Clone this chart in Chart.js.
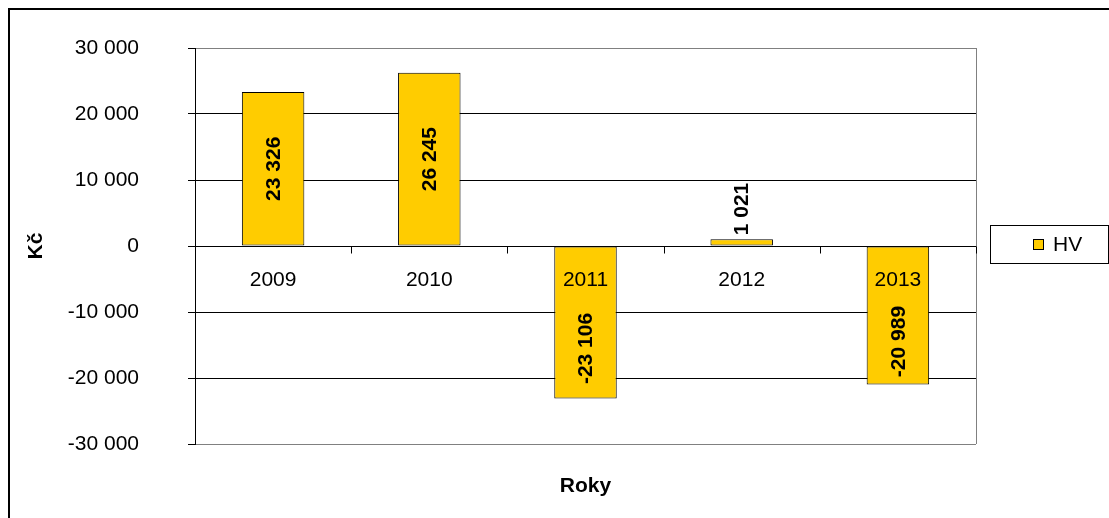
<!DOCTYPE html>
<html>
<head>
<meta charset="utf-8">
<script src="https://cdn.jsdelivr.net/npm/chart.js@4.4.1/dist/chart.umd.min.js"></script>
<style>
  html, body { margin: 0; padding: 0; background: #fff; }
  #wrap { width: 1109px; height: 518px; position: relative; }
</style>
</head>
<body>
<div id="wrap"><canvas id="chart" width="1109" height="518"></canvas></div>
<script>
const years = ['2009', '2010', '2011', '2012', '2013'];
const hvValues = [23326, 26245, -23106, 1021, -20989];
const yTicks = [-30000, -20000, -10000, 0, 10000, 20000, 30000];
const seriesName = 'HV';

const FONT = '"Liberation Sans", Arial, sans-serif';
const BAR_COLOR = '#FFCC00';

// 23326 -> "23 326"
const fmt = (v) => {
  const s = String(Math.abs(v)).replace(/\B(?=(\d{3})+(?!\d))/g, ' ');
  return v < 0 ? '-' + s : s;
};

const excelLook = {
  id: 'excelLook',
  beforeDraw(chart) {
    const { ctx } = chart;
    ctx.save();
    ctx.fillStyle = '#fff';
    ctx.fillRect(0, 0, chart.width, chart.height);
    ctx.restore();
  },
  afterDatasetsDraw(chart) {
    const { ctx, chartArea } = chart;
    const x = chart.scales.x;
    const y = chart.scales.y;
    const zero = Math.round(y.getPixelForValue(0)) + 0.5;

    ctx.save();
    // plot area border (right, grey)
    ctx.strokeStyle = '#808080';
    ctx.lineWidth = 1;
    ctx.beginPath();
    ctx.moveTo(Math.round(chartArea.right) + 0.5, chartArea.top);
    ctx.lineTo(Math.round(chartArea.right) + 0.5, chartArea.bottom);
    ctx.stroke();

    // zero line + category tick marks
    ctx.strokeStyle = '#000';
    ctx.beginPath();
    ctx.moveTo(chartArea.left, zero);
    ctx.lineTo(chartArea.right, zero);
    const step = (chartArea.right - chartArea.left) / years.length;
    for (let i = 1; i <= years.length; i++) {
      const bx = Math.round(chartArea.left + i * step) + 0.5;
      ctx.moveTo(bx, zero);
      ctx.lineTo(bx, zero + 7);
    }
    ctx.stroke();

    // category labels sit just under the zero line
    ctx.fillStyle = '#000';
    ctx.font = '21px ' + FONT;
    ctx.textAlign = 'center';
    ctx.textBaseline = 'middle';
    years.forEach((yr, i) => {
      ctx.fillText(yr, x.getPixelForValue(i), zero + 34);
    });

    // value labels, rotated
    ctx.font = 'bold 21px ' + FONT;
    const meta = chart.getDatasetMeta(0);
    meta.data.forEach((bar, i) => {
      const v = hvValues[i];
      const h = Math.abs(bar.base - bar.y);
      ctx.save();
      ctx.textBaseline = 'middle';
      if (h > 80) {
        // negative bars: centre in the part below the category label
        const cy = v < 0 ? (zero + 52 + bar.y) / 2 : (bar.y + bar.base) / 2;
        ctx.translate(bar.x, cy);
        ctx.rotate(-Math.PI / 2);
        ctx.textAlign = 'center';
        ctx.fillText(fmt(v), 0, 1);
      } else {
        ctx.translate(bar.x, bar.y - 4);
        ctx.rotate(-Math.PI / 2);
        ctx.textAlign = 'left';
        ctx.fillText(fmt(v), 0, 1);
      }
      ctx.restore();
    });

    // legend box
    ctx.lineWidth = 1;
    ctx.strokeStyle = '#000';
    ctx.strokeRect(990.5, 225.5, 118, 38);
    ctx.fillStyle = BAR_COLOR;
    ctx.fillRect(1033.5, 239.5, 10, 10);
    ctx.strokeRect(1033.5, 239.5, 10, 10);
    ctx.fillStyle = '#000';
    ctx.font = '21px ' + FONT;
    ctx.textAlign = 'left';
    ctx.fillText(seriesName, 1053, 245);

    // outer chart border
    ctx.lineWidth = 2;
    ctx.strokeRect(9, 9, 1200, 600);
    ctx.restore();
  }
};

new Chart(document.getElementById('chart'), {
  type: 'bar',
  data: {
    labels: years,
    datasets: [{
      label: seriesName,
      data: hvValues,
      backgroundColor: BAR_COLOR,
      borderColor: '#000',
      borderWidth: 1,
      borderSkipped: false,
      categoryPercentage: 1,
      barPercentage: 0.4
    }]
  },
  options: {
    responsive: false,
    animation: false,
    layout: { padding: { left: 10, right: 133, top: 48, bottom: 8 } },
    plugins: {
      legend: { display: false },
      tooltip: { enabled: false }
    },
    scales: {
      x: {
        grid: { display: false },
        border: { display: false },
        ticks: { display: false },
        title: {
          display: true,
          text: 'Roky',
          color: '#000',
          font: { family: FONT, size: 21, weight: 'bold' },
          padding: { top: 0, bottom: 11 }
        },
        afterFit(scale) { scale.height = 66; }
      },
      y: {
        min: yTicks[0],
        max: yTicks[yTicks.length - 1],
        afterBuildTicks(scale) { scale.ticks = yTicks.map(v => ({ value: v })); },
        ticks: {
          color: '#000',
          padding: 49,
          font: { family: FONT, size: 21 },
          callback: (v) => fmt(v)
        },
        grid: {
          color: (c) => (c.tick && Math.abs(c.tick.value) === 30000 ? '#808080' : '#000'),
          tickColor: '#000',
          tickLength: 7,
          lineWidth: 1
        },
        border: { color: '#000', width: 1 },
        title: {
          display: true,
          text: 'Kč',
          color: '#000',
          font: { family: FONT, size: 21, weight: 'bold' },
          padding: { top: 14, bottom: 0 }
        },
        afterFit(scale) {
          scale.width = 185;
          // the big tick padding should not push the plot down
          scale.paddingTop = 0;
          scale.paddingBottom = 0;
        }
      }
    }
  },
  plugins: [excelLook]
});
</script>
</body>
</html>
